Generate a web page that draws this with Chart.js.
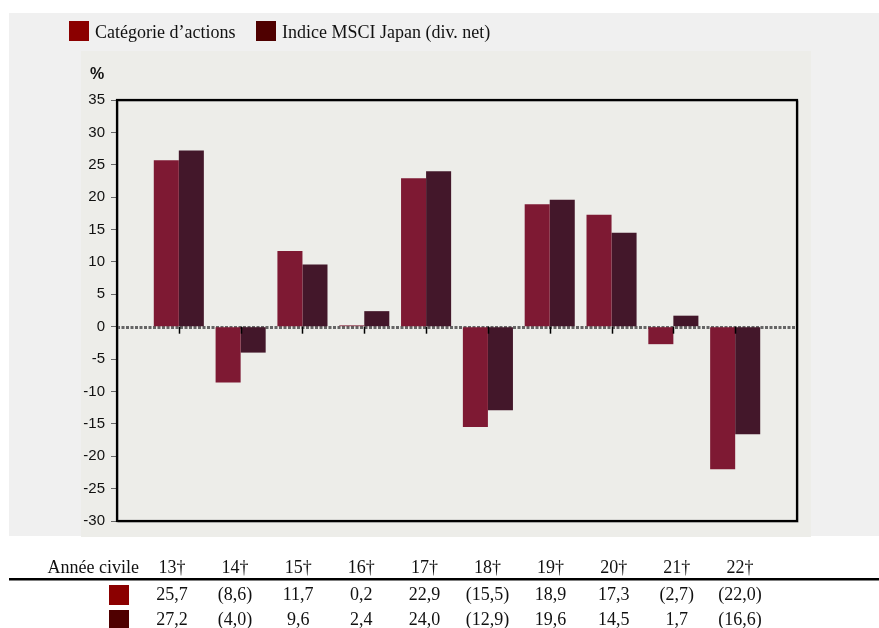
<!DOCTYPE html>
<html>
<head>
<meta charset="utf-8">
<script src="https://cdn.jsdelivr.net/npm/chart.js@4/dist/chart.umd.min.js"></script>
<style>
  html, body { margin: 0; padding: 0; background: #ffffff; }
  #c { display: block; }
</style>
</head>
<body>
<canvas id="c" width="879" height="628"></canvas>
<script>
// ---- Data ----
const categories = ['13†', '14†', '15†', '16†', '17†', '18†', '19†', '20†', '21†', '22†'];
const fundReturns = [25.7, -8.6, 11.7, 0.2, 22.9, -15.5, 18.9, 17.3, -2.7, -22.0];
const indexReturns = [27.2, -4.0, 9.6, 2.4, 24.0, -12.9, 19.6, 14.5, 1.7, -16.6];
const seriesNames = ['Catégorie d’actions', 'Indice MSCI Japan (div. net)'];
const rowHeader = 'Année civile';
const yUnit = '%';
const yMin = -30, yMax = 35, yStep = 5;

// ---- Styles ----
const barColors = ['#7e1933', '#43172a'];
const keyColors = ['#8b0000', '#4f0000'];
const serif = '"Liberation Serif", "Times New Roman", serif';
const sans = '"Liberation Sans", Arial, sans-serif';

// padded labels so bar groups sit at 1..10 of 0..11 slots
const labels = [''].concat(categories, ['']);
const pad = arr => [null].concat(arr, [null]);

const fmt = v => {
  const s = Math.abs(v).toFixed(1).replace('.', ',');
  return v < 0 ? '(' + s + ')' : s;
};

const decor = {
  id: 'decor',
  beforeDraw(chart) {
    const ctx = chart.ctx;
    ctx.save();
    ctx.fillStyle = '#ffffff';
    ctx.fillRect(0, 0, chart.width, chart.height);
    ctx.fillStyle = '#f0f0f0';
    ctx.fillRect(9, 13, 870, 523);
    ctx.fillStyle = '#edede9';
    ctx.fillRect(81, 51, 730, 486);

    // legend
    ctx.font = '18px ' + serif;
    ctx.textBaseline = 'middle';
    ctx.textAlign = 'left';
    const lx = [69, 256];
    for (let i = 0; i < 2; i++) {
      ctx.fillStyle = keyColors[i];
      ctx.fillRect(lx[i], 21, 20, 20);
      ctx.fillStyle = '#111';
      ctx.fillText(seriesNames[i], lx[i] + 26, 33);
    }

    // unit label
    ctx.font = 'bold 16px ' + sans;
    ctx.textAlign = 'center';
    ctx.fillStyle = '#111';
    ctx.fillText(yUnit, 97, 75);

    // data table
    ctx.font = '18px ' + serif;
    ctx.textAlign = 'right';
    ctx.fillText(rowHeader, 139, 568);
    ctx.textAlign = 'center';
    const colX = i => 172 + i * 63.1;
    categories.forEach((c, i) => ctx.fillText(c, colX(i), 568));
    ctx.fillStyle = '#000';
    ctx.fillRect(9, 578, 870, 2.5);
    const rows = [fundReturns, indexReturns];
    const rowY = [595, 620];
    rows.forEach((r, k) => {
      ctx.fillStyle = keyColors[k];
      ctx.fillRect(109, rowY[k] - 10, 20, 20);
      ctx.fillStyle = '#111';
      r.forEach((v, i) => ctx.fillText(fmt(v), colX(i), rowY[k]));
    });
    ctx.restore();
  },
  beforeDatasetsDraw(chart) {
    const ctx = chart.ctx;
    const a = chart.chartArea;
    const y0 = Math.round(chart.scales.y.getPixelForValue(0));
    ctx.save();
    ctx.strokeStyle = '#656565';
    ctx.lineWidth = 3;
    ctx.setLineDash([3, 1.5]);
    ctx.beginPath();
    ctx.moveTo(a.left, y0 + 0.5);
    ctx.lineTo(a.right, y0 + 0.5);
    ctx.stroke();
    ctx.restore();
  },
  afterDatasetsDraw(chart) {
    const ctx = chart.ctx;
    const a = chart.chartArea;
    const y0 = chart.scales.y.getPixelForValue(0);
    const xs = chart.scales.x;
    ctx.save();
    ctx.strokeStyle = '#000';
    ctx.lineWidth = 1.5;
    categories.forEach((c, i) => {
      const x = Math.round(xs.getPixelForValue(i + 1)) + 0.5;
      ctx.beginPath();
      ctx.moveTo(x, y0);
      ctx.lineTo(x, y0 + 7);
      ctx.stroke();
    });
    ctx.strokeStyle = '#8a8a8a';
    ctx.lineWidth = 1;
    ctx.strokeRect(a.left + 1, a.top + 1, a.right - a.left, a.bottom - a.top);
    ctx.strokeStyle = '#000';
    ctx.lineWidth = 2.2;
    ctx.strokeRect(a.left, a.top, a.right - a.left, a.bottom - a.top);
    ctx.restore();
  }
};

new Chart(document.getElementById('c'), {
  type: 'bar',
  data: {
    labels: labels,
    datasets: [
      { label: seriesNames[0], data: pad(fundReturns), backgroundColor: barColors[0], borderWidth: 0 },
      { label: seriesNames[1], data: pad(indexReturns), backgroundColor: barColors[1], borderWidth: 0 }
    ]
  },
  options: {
    responsive: false,
    devicePixelRatio: 1,
    animation: false,
    layout: { padding: { left: 77, top: 100, right: 82, bottom: 107 } },
    datasets: { bar: { categoryPercentage: 0.81, barPercentage: 1.0 } },
    plugins: { legend: { display: false }, tooltip: { enabled: false }, title: { display: false } },
    scales: {
      x: { type: 'category', offset: false, display: false },
      y: {
        min: yMin, max: yMax,
        afterFit(scale) { scale.width = 40; },
        border: { display: false },
        grid: { drawOnChartArea: false, drawTicks: true, tickLength: 6, color: '#666', lineWidth: 1 },
        ticks: { stepSize: yStep, padding: 6, color: '#111', font: { family: sans, size: 15 } }
      }
    }
  },
  plugins: [decor]
});
</script>
</body>
</html>
